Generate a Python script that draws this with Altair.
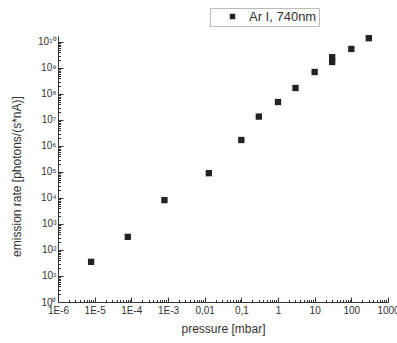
import altair as alt
import pandas as pd

# data
pressure = [8e-6, 8e-5, 8e-4, 0.013, 0.1, 0.3, 1, 3, 10, 30, 30, 100, 300]
rate = [35, 3.2e2, 8.3e3, 9.0e4, 1.7e6, 1.35e7, 4.9e7, 1.7e8, 7.0e8, 2.6e9, 1.7e9, 5.4e9, 1.4e10]
series_name = "Ar I, 740nm"

x_tick_values = [1e-6, 1e-5, 1e-4, 1e-3, 1e-2, 1e-1, 1, 10, 100, 1000]
x_tick_labels = ["1E-6", "1E-5", "1E-4", "1E-3", "0,01", "0,1", "1", "10", "100", "1000"]
y_tick_values = [10.0 ** k for k in range(0, 11)]
y_tick_labels = ["10⁰", "10¹", "10²", "10³", "10⁴", "10⁵", "10⁶", "10⁷", "10⁸", "10⁹", "10¹⁰"]

x_minor = [m * 10.0 ** d for d in range(-6, 3) for m in range(2, 10)]
y_minor = [m * 10.0 ** d for d in range(0, 10) for m in range(2, 10)]

df = pd.DataFrame({"pressure": pressure, "rate": rate, "series": [series_name] * len(pressure)})

x_expr = "[" + ",".join("'%s'" % s for s in x_tick_labels) + "][round(log(datum.value)/LN10)+6]"
y_expr = "[" + ",".join("'%s'" % s for s in y_tick_labels) + "][round(log(datum.value)/LN10)]"

FONT = "Liberation Sans"
AX = "#333333"

xscale = alt.Scale(type="log", domain=[1e-6, 1e3])
yscale = alt.Scale(type="log", domain=[1, 1.7e10])

common_axis = dict(
    grid=False, domainColor=AX, tickColor=AX, labelColor=AX, titleColor=AX,
    labelFont=FONT, titleFont=FONT, titleFontWeight="normal",
)

main = alt.Chart(df).mark_square(size=40, color="#222222", opacity=1).encode(
    x=alt.X("pressure:Q", scale=xscale,
            axis=alt.Axis(values=x_tick_values, labelExpr=x_expr, title="pressure [mbar]",
                          orient="bottom", tickSize={"expr": "-5"}, labelPadding=8,
                          labelFontSize=10, titleFontSize=12, titlePadding=8,
                          labelFlush=False, labelOverlap=False, **common_axis)),
    y=alt.Y("rate:Q", scale=yscale,
            axis=alt.Axis(values=y_tick_values, labelExpr=y_expr,
                          title="emission rate [photons/(s*nA)]",
                          orient="left", tickSize={"expr": "-5"}, labelPadding=7,
                          labelFontSize=10, titleFontSize=12, titlePadding=14, titleY=140,
                          labelFlush=False, labelOverlap=False, **common_axis)),
    color=alt.Color("series:N", scale=alt.Scale(range=["#222222"]),
                    legend=alt.Legend(title=None, orient="none", legendX=152, legendY=-28,
                                      symbolType="square", symbolSize=30, symbolFillColor="#444444",
                                      symbolStrokeWidth=0,
                                      labelFont=FONT, labelFontSize=13, labelColor=AX,
                                      padding=2, strokeColor="#bbbbbb", fillColor="white",
                                      symbolOffset=14, labelOffset=10)),
)

minor = alt.Chart(df).mark_point(opacity=0).encode(
    x=alt.X("pressure:Q", scale=xscale,
            axis=alt.Axis(values=x_minor, labels=False, domain=False, title=None, orient="bottom",
                          tickSize={"expr": "-2.5"}, grid=False, tickColor=AX)),
    y=alt.Y("rate:Q", scale=yscale,
            axis=alt.Axis(values=y_minor, labels=False, domain=False, title=None, orient="left",
                          tickSize={"expr": "-2.5"}, grid=False, tickColor=AX)),
)

chart = alt.layer(main, minor).resolve_axis(x="independent", y="independent").properties(
    width=330, height=266,
    autosize=alt.AutoSizeParams(type="none"),
    padding={"left": 58, "top": 36, "right": 9, "bottom": 41},
    background="white",
).configure_view(stroke=None)

chart.save("out.html", embed_options={"renderer": "svg", "actions": False})
